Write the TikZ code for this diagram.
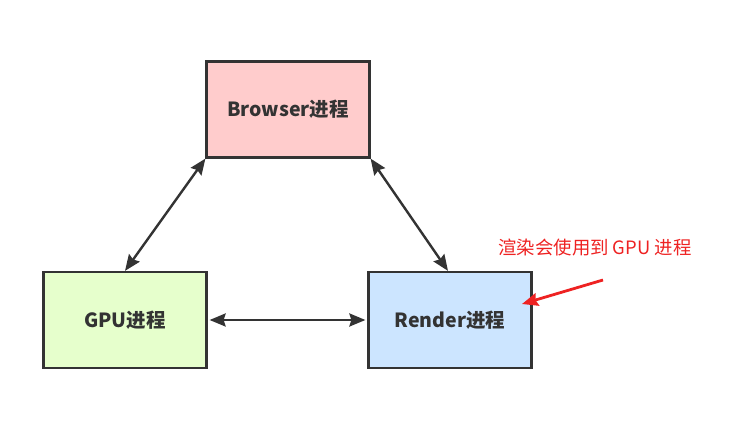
\documentclass[tikz,border=0pt]{standalone}
\usepackage{fontspec}
\setmainfont{Noto Sans CJK SC}
\usetikzlibrary{arrows.meta}
\definecolor{browserfill}{HTML}{FFCCCC}
\definecolor{gpufill}{HTML}{E6FFCC}
\definecolor{renderfill}{HTML}{CCE5FF}
\definecolor{edge}{HTML}{333333}
\definecolor{notered}{HTML}{EE2222}
\tikzset{
  proc/.style={draw=edge, line width=2.2pt, minimum width=163pt, minimum height=96pt,
    inner sep=0pt, text=edge, font=\fontsize{19.5}{22}\selectfont\bfseries},
  tip/.style={arrows={-Stealth[length=16pt,width=13pt,inset=2pt]}},
  link/.style={draw=edge, line width=2.4pt,
    arrows={Stealth[length=16pt,width=13pt,inset=2pt]-Stealth[length=16pt,width=13pt,inset=2pt]}},
}
\begin{document}
\begin{tikzpicture}[x=1pt,y=1pt]
\useasboundingbox (0,0) rectangle (749,422);
\node[proc,fill=browserfill] (browser) at (288,312.5) {Browser进程};
\node[proc,fill=gpufill] (gpu) at (125,102) {GPU进程};
\node[proc,fill=renderfill] (render) at (450,102) {Render进程};
\draw[link] (browser.south west) -- (gpu.north);
\draw[link] (browser.south east) -- ([xshift=-2pt]render.north);
\draw[link] ([xshift=2pt]gpu.east) -- ([xshift=-2pt]render.west);
% annotation
\node[text=notered, font=\fontsize{18.4}{22}\selectfont] (note) at (595,174) {渲染会使用到 GPU 进程};
\coordinate (tail) at (603,142);
\coordinate (arrowtip) at (522,118);
\draw[notered, line width=2.8pt, tip] (tail) -- (arrowtip);
\end{tikzpicture}
\end{document}
